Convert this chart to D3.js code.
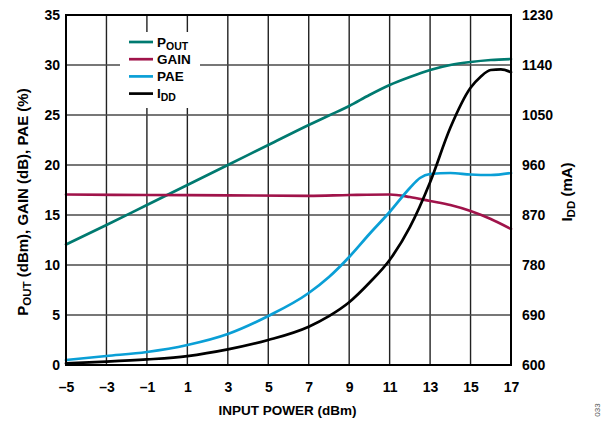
<!DOCTYPE html>
<html><head><meta charset="utf-8">
<script src="https://cdn.jsdelivr.net/npm/d3@7"></script>
<style>
html,body{margin:0;padding:0;background:#fff;}
svg{display:block;font-family:"Liberation Sans",Arial,sans-serif;}
</style></head>
<body>
<svg id="chart" width="604" height="421"></svg>
<script>
// ---- data ----
const xTicks = [-5, -3, -1, 1, 3, 5, 7, 9, 11, 13, 15, 17];
const leftTicks = [0, 5, 10, 15, 20, 25, 30, 35];
const rightTicks = [600, 690, 780, 870, 960, 1050, 1140, 1230];

const poutX = [-5, -3, -1, 1, 3, 5, 7, 8, 9, 10, 11, 12, 13, 14, 15, 16, 17];
const poutY = [12.05, 14.0, 16.0, 18.0, 20.0, 22.0, 24.0, 24.95, 25.9, 27.0, 28.0, 28.8, 29.5, 30.0, 30.3, 30.5, 30.6];

const gainX = [-5, -1, 3, 7, 9, 11, 12, 13, 14, 15, 16, 17];
const gainY = [17.05, 17.0, 16.97, 16.92, 17.0, 17.05, 16.8, 16.4, 16.0, 15.4, 14.6, 13.6];

const paeX = [-5, -3, -1, 1, 3, 5, 7, 8, 9, 10, 11, 12, 12.5, 13, 14, 15, 16, 17];
const paeY = [0.5, 0.9, 1.3, 2.0, 3.1, 4.9, 7.2, 8.8, 10.8, 13.1, 15.3, 17.7, 18.7, 19.1, 19.2, 19.05, 19.0, 19.2];

const iddX = [-5, -3, -1, 1, 3, 5, 7, 8, 9, 10, 11, 12, 13, 14, 15, 15.5, 16, 16.5, 17];
const iddY = [603, 606, 610, 616, 628, 645, 669, 688, 713, 748, 789, 848, 929, 1027, 1099, 1119, 1131, 1132, 1127];

const legendItems = [
  {name: "P", sub: "OUT", color: "#007a70"},
  {name: "GAIN", sub: "", color: "#a0134a"},
  {name: "PAE", sub: "", color: "#0a9fd6"},
  {name: "I", sub: "DD", color: "#000000"}
];

// ---- layout ----
const L = 66, R = 511, T = 15, B = 365;
const svg = d3.select("#chart");
const x = d3.scaleLinear().domain([-5, 17]).range([L, R]);
const yL = d3.scaleLinear().domain([0, 35]).range([B, T]);
const yR = d3.scaleLinear().domain([600, 1230]).range([B, T]);

// gridlines
const grid = svg.append("g");
grid.selectAll("line.v").data(xTicks.slice(1, -1)).join("line")
  .attr("x1", d => x(d)).attr("x2", d => x(d)).attr("y1", T).attr("y2", B)
  .attr("stroke", "#222").attr("stroke-width", 1.4);
grid.selectAll("line.h").data(leftTicks.slice(1, -1)).join("line")
  .attr("x1", L).attr("x2", R).attr("y1", d => yL(d)).attr("y2", d => yL(d))
  .attr("stroke", "#4a4a4a").attr("stroke-width", 1.6);

// legend background covering grid
const lg = svg.append("g");
lg.append("rect").attr("x", 120).attr("y", 32).attr("width", 80).attr("height", 76).attr("fill", "#fff");

// lines
const series = [
  {xs: poutX, ys: poutY, scale: yL, color: legendItems[0].color},
  {xs: gainX, ys: gainY, scale: yL, color: legendItems[1].color},
  {xs: paeX, ys: paeY, scale: yL, color: legendItems[2].color},
  {xs: iddX, ys: iddY, scale: yR, color: legendItems[3].color}
];
const plot = svg.append("g");
series.forEach(s => {
  const pts = s.xs.map((v, i) => [v, s.ys[i]]);
  const line = d3.line().x(d => x(d[0])).y(d => s.scale(d[1])).curve(d3.curveMonotoneX);
  plot.append("path").attr("d", line(pts)).attr("fill", "none")
    .attr("stroke", s.color).attr("stroke-width", 2.7).attr("stroke-linecap", "round");
});

// frame
svg.append("rect").attr("x", L).attr("y", T).attr("width", R - L).attr("height", B - T)
  .attr("fill", "none").attr("stroke", "#000").attr("stroke-width", 2);

// axes (ticks as labels only)
const tickSize = 14;
const axB = svg.append("g").attr("transform", `translate(0,${B})`)
  .call(d3.axisBottom(x).tickValues(xTicks).tickSize(0).tickPadding(0)
    .tickFormat(d => d < 0 ? "\u2013" + Math.abs(d) : String(d)));
axB.select(".domain").remove();
axB.selectAll("text").attr("dy", null).attr("y", 27).attr("font-size", tickSize)
  .attr("font-weight", "bold").attr("fill", "#000").attr("font-family", "Liberation Sans, Arial, sans-serif");

const axL = svg.append("g").attr("transform", `translate(${L},0)`)
  .call(d3.axisLeft(yL).tickValues(leftTicks).tickSize(0).tickPadding(0).tickFormat(d3.format("d")));
axL.select(".domain").remove();
axL.selectAll("text").attr("x", -6).attr("dy", "0.35em").attr("font-size", tickSize)
  .attr("font-weight", "bold").attr("fill", "#000").attr("font-family", "Liberation Sans, Arial, sans-serif");

const axR = svg.append("g").attr("transform", `translate(${R},0)`)
  .call(d3.axisRight(yR).tickValues(rightTicks).tickSize(0).tickPadding(0).tickFormat(d3.format("d")));
axR.select(".domain").remove();
axR.selectAll("text").attr("x", 11).attr("dy", "0.35em").attr("font-size", tickSize)
  .attr("font-weight", "bold").attr("fill", "#000").attr("font-family", "Liberation Sans, Arial, sans-serif");

// axis titles
svg.append("text").attr("x", (L + R) / 2 - 1).attr("y", 415).attr("text-anchor", "middle")
  .attr("font-size", 13.5).attr("font-weight", "bold").text("INPUT POWER (dBm)");

const lt = svg.append("text").attr("transform", "translate(28,202) rotate(-90)")
  .attr("text-anchor", "middle").attr("font-size", 15).attr("font-weight", "bold");
lt.append("tspan").text("P");
lt.append("tspan").attr("font-size", 11.5).attr("dy", 3).text("OUT");
lt.append("tspan").attr("dy", -3).text(" (dBm), GAIN (dB), PAE (%)");

const rt = svg.append("text").attr("transform", "translate(572,192) rotate(-90)")
  .attr("text-anchor", "middle").attr("font-size", 15).attr("font-weight", "bold");
rt.append("tspan").text("I");
rt.append("tspan").attr("font-size", 11.5).attr("dy", 3).text("DD");
rt.append("tspan").attr("dy", -3).text(" (mA)");

svg.append("text").attr("transform", "translate(600,410) rotate(-90)")
  .attr("text-anchor", "middle").attr("font-size", 8).attr("fill", "#555").text("033");

// legend entries
legendItems.forEach((d, i) => {
  const yy = 42 + i * 17.2;
  lg.append("line").attr("x1", 129).attr("x2", 153).attr("y1", yy).attr("y2", yy)
    .attr("stroke", d.color).attr("stroke-width", 2.7);
  const t = lg.append("text").attr("x", 157).attr("y", yy + 4.8)
    .attr("font-size", 13.5).attr("font-weight", "bold");
  t.append("tspan").text(d.name);
  if (d.sub) t.append("tspan").attr("font-size", 10.5).attr("dy", 3).text(d.sub);
});
</script>
</body></html>
